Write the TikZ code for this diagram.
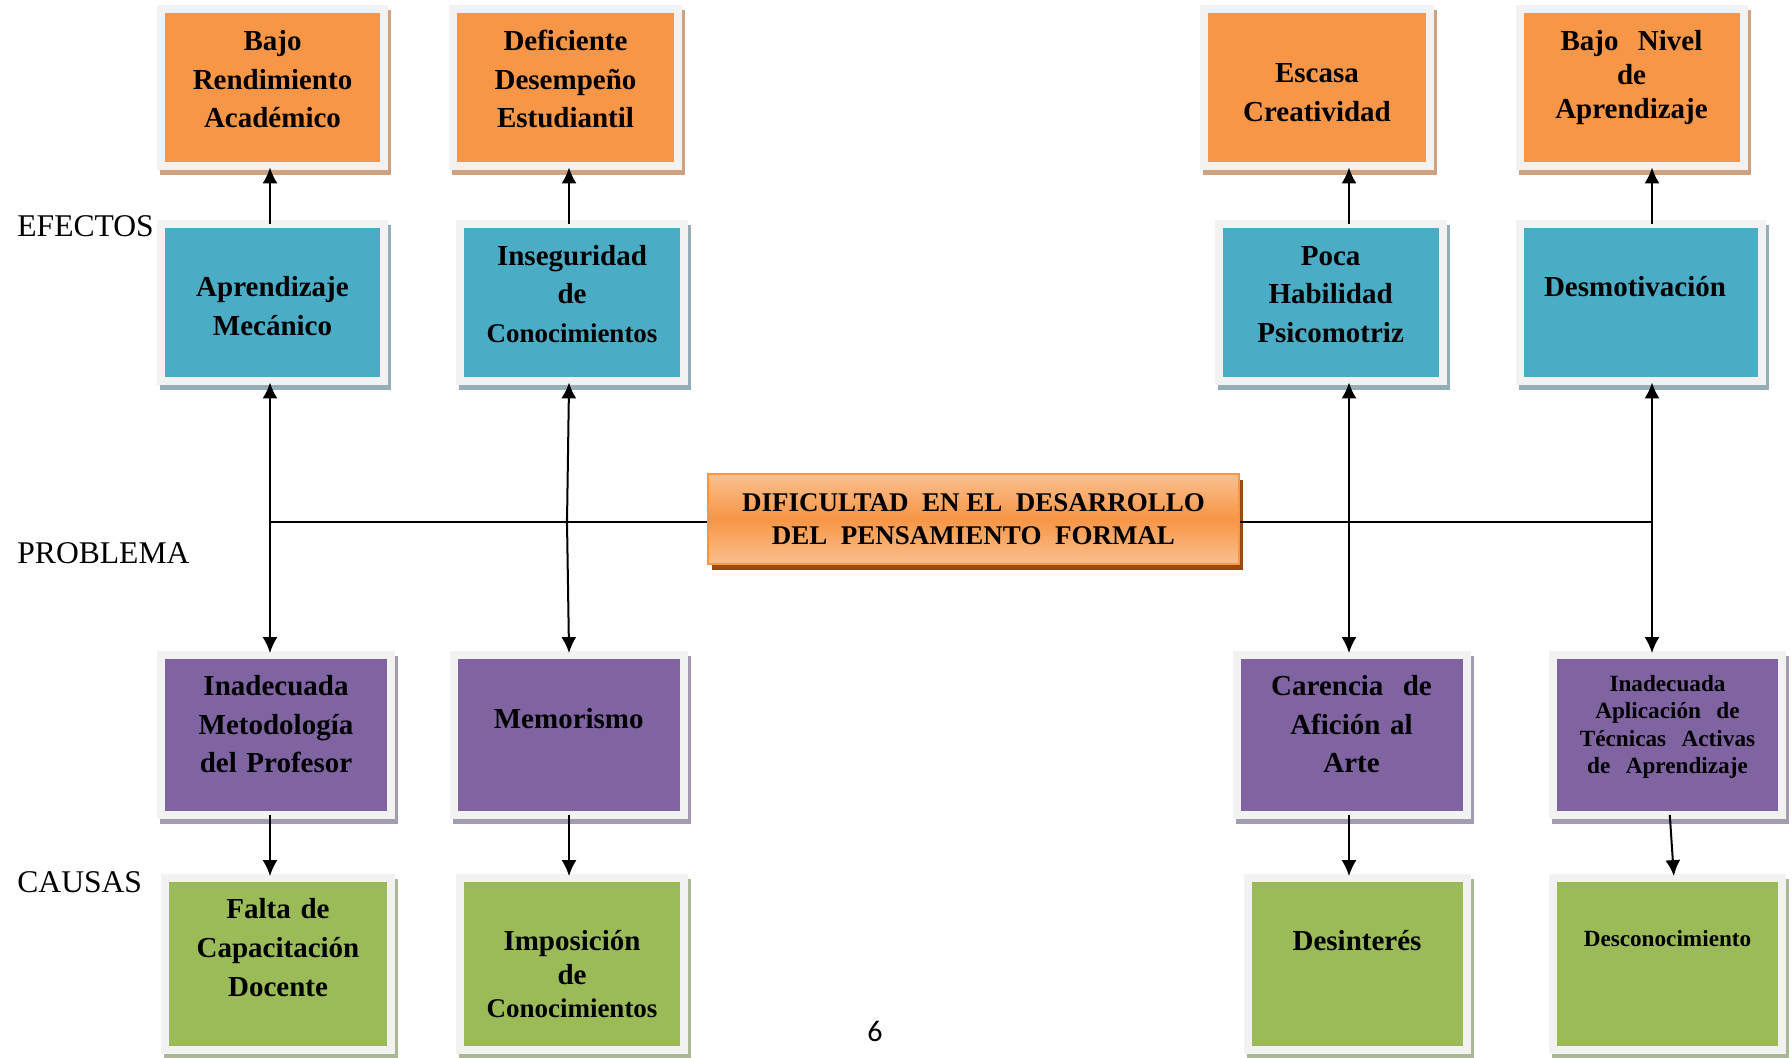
\documentclass[tikz,border=0pt]{standalone}
\usepackage{fontspec}
\setmainfont{Liberation Serif}
\newfontfamily\pagina{Carlito}
\usetikzlibrary{arrows.meta,shadows}

\definecolor{marco}{HTML}{F2F2F2}
\definecolor{naranja}{HTML}{F79646}
\definecolor{naranjaS}{HTML}{CFA382}
\definecolor{azul}{HTML}{4BACC6}
\definecolor{azulS}{HTML}{94AEB8}
\definecolor{morado}{HTML}{8064A2}
\definecolor{moradoS}{HTML}{A39CB1}
\definecolor{verde}{HTML}{9BBB59}
\definecolor{verdeS}{HTML}{ABB894}
\definecolor{durazno}{HTML}{FAC090}
\definecolor{cafe}{HTML}{9C4A0B}

\tikzset{
  caja/.style={rectangle, inner sep=0pt, fill=marco,
    path picture={\fill[#1] ([shift={(4pt,4pt)}]path picture bounding box.south west)
      rectangle ([shift={(-4pt,-4pt)}]path picture bounding box.north east);}},
  sombra/.style={drop shadow={shadow xshift=1.5pt,shadow yshift=-2.75pt,fill=#1,opacity=1}},
  tam/.style 2 args={minimum width=#1*0.5pt, minimum height=#2*0.5pt},
  efecto/.style={caja=naranja, sombra=naranjaS},
  efecto2/.style={caja=azul, sombra=azulS},
  causa/.style={caja=morado, sombra=moradoS},
  causa2/.style={caja=verde, sombra=verdeS},
  texto/.style={font=\bfseries\fontsize{14.5}{19.3}\selectfont, align=center,
    text width=122pt, inner sep=0pt, anchor=base},
  chico/.style={font=\bfseries\fontsize{11.6}{13.6}\selectfont},
  rotulo/.style={font=\fontsize{15.8}{19}\selectfont, anchor=base west, inner sep=0pt},
  flecha/.style={-{Latex[length=8pt,width=7.5pt]}, line width=1pt,
    shorten <=-2pt, shorten >=-1.5pt},
  linea/.style={line width=1.2pt}
}

\begin{document}
\begin{tikzpicture}[x=0.5pt,y=-0.5pt]
\useasboundingbox (0,0) rectangle (1792,1058);

% efectos
\node[efecto, tam={231}{165}] (e1) at (272.5,87.5) {};
\node[efecto, tam={233}{165}] (e2) at (565.5,87.5) {};
\node[efecto, tam={234}{165}] (e3) at (1317,87.5) {};
\node[efecto, tam={232.5}{165}] (e4) at (1631.75,87.5) {};
\node[efecto2, tam={231}{165}] (f1) at (272.5,302.5) {};
\node[efecto2, tam={232}{165}] (f2) at (572,302.5) {};
\node[efecto2, tam={232.4}{165}] (f3) at (1330.8,302.5) {};
\node[efecto2, tam={250.5}{165}] (f4) at (1640.75,302.5) {};

% causas
\node[causa, tam={238}{168}] (c1) at (276,734.5) {};
\node[causa, tam={238.5}{168}] (c2) at (568.75,734.5) {};
\node[causa, tam={238}{168}] (c3) at (1352,734.5) {};
\node[causa, tam={237.5}{168}] (c4) at (1667.25,734.5) {};
\node[causa2, tam={234}{180}] (d1) at (278,963.5) {};
\node[causa2, tam={232}{180}] (d2) at (572,963.5) {};
\node[causa2, tam={227}{180}] (d3) at (1357.5,963.5) {};
\node[causa2, tam={237.5}{180}] (d4) at (1667.25,963.5) {};

% problema
\node[rectangle, draw=naranja, line width=0.8pt, top color=durazno, bottom color=durazno,
  middle color=naranja, drop shadow={shadow xshift=2pt,shadow yshift=-3pt,fill=cafe,opacity=1},
  tam={531}{90}, align=center, font=\bfseries\fontsize{13.5}{16.8}\selectfont] (prob) at (973.5,519)
  {DIFICULTAD\ \ EN EL\ \ DESARROLLO\\DEL\ \ PENSAMIENTO\ \ FORMAL};

\coordinate (jA) at (270,522);
\coordinate (jB) at (567,522);
\coordinate (jC) at (1349,522);
\coordinate (jD) at (1652,522);

\draw[linea] (jA) -- (prob.west |- jA);
\draw[linea] (prob.east |- jD) -- (jD);

\draw[flecha] (jA |- f1.north) -- (jA |- e1.south);
\draw[flecha] ([xshift=1pt]jB |- f2.north) -- ([xshift=1pt]jB |- e2.south);
\draw[flecha] (jC |- f3.north) -- (jC |- e3.south);
\draw[flecha] (jD |- f4.north) -- (jD |- e4.south);

\draw[flecha] (jA) -- (jA |- f1.south);
\draw[flecha] (jB) -- ([xshift=1pt]jB |- f2.south);
\draw[flecha] (jC) -- (jC |- f3.south);
\draw[flecha] (jD) -- (jD |- f4.south);

\draw[flecha] (jA) -- (jA |- c1.north);
\draw[flecha] (jB) -- ([xshift=1pt]jB |- c2.north);
\draw[flecha] (jC) -- (jC |- c3.north);
\draw[flecha] (jD) -- (jD |- c4.north);

\draw[flecha] (jA |- c1.south) -- (jA |- d1.north);
\draw[flecha] ([xshift=1pt]jB |- c2.south) -- ([xshift=1pt]jB |- d2.north);
\draw[flecha] (jC |- c3.south) -- (jC |- d3.north);
\draw[flecha] ([xshift=1.4pt]c4.south) -- ([xshift=3.2pt]d4.north);

% textos
\node[texto] (te1) at (272.5,50.7) {Bajo\\Rendimiento\\Académico};
\node[texto] (te2) at (565.5,50.7) {Deficiente\\Desempeño\\Estudiantil};
\node[texto] (te3) at (1317,82.8) {Escasa\\Creatividad};
\node[texto, font=\bfseries\fontsize{14.5}{17}\selectfont] (te4) at (1631.5,50.7) {Bajo\ \ Nivel\\de\\Aprendizaje};
\node[texto] (tf1) at (272.5,296.8) {Aprendizaje\\Mecánico};
\node[texto] (tf2) at (572,265.4) {Inseguridad\\de\\{\fontsize{13.5}{18}\selectfont Conocimientos}};
\node[texto] (tf3) at (1330.6,265.4) {Poca\\Habilidad\\Psicomotriz};
\node[texto] (tf4) at (1635,296.8) {Desmotivación};
\node[texto] (tc1) at (276,695.7) {Inadecuada\\Metodología\\del Profesor};
\node[texto] (tc2) at (568.75,728.7) {Memorismo};
\node[texto] (tc3) at (1351.5,695.7) {Carencia\ \ de\\Afición al\\Arte};
\node[texto, chico] (tc4) at (1667.5,691.7) {Inadecuada\\Aplicación\ \ de\\Técnicas\ \ Activas\\de\ \ Aprendizaje};
\node[texto] (td1) at (278,918.9) {Falta de\\Capacitación\\Docente};
\node[texto, font=\bfseries\fontsize{14.5}{16.6}\selectfont] (td2) at (572,950.9) {Imposición\\de\\{\fontsize{13.5}{15.2}\selectfont Conocimientos}};
\node[texto] (td3) at (1357,950.9) {Desinterés};
\node[texto, chico] (td4) at (1667.5,946.5) {Desconocimiento};

% rotulos
\node[rotulo] (efe) at (17,236.6) {EFECTOS};
\node[rotulo] (pro) at (17,563.7) {PROBLEMA};
\node[rotulo] (cau) at (17,892) {CAUSAS};
\node[font=\pagina\fontsize{15}{18}\selectfont, anchor=base, inner sep=0pt] (pag) at (875,1041.8) {6};
\end{tikzpicture}
\end{document}
